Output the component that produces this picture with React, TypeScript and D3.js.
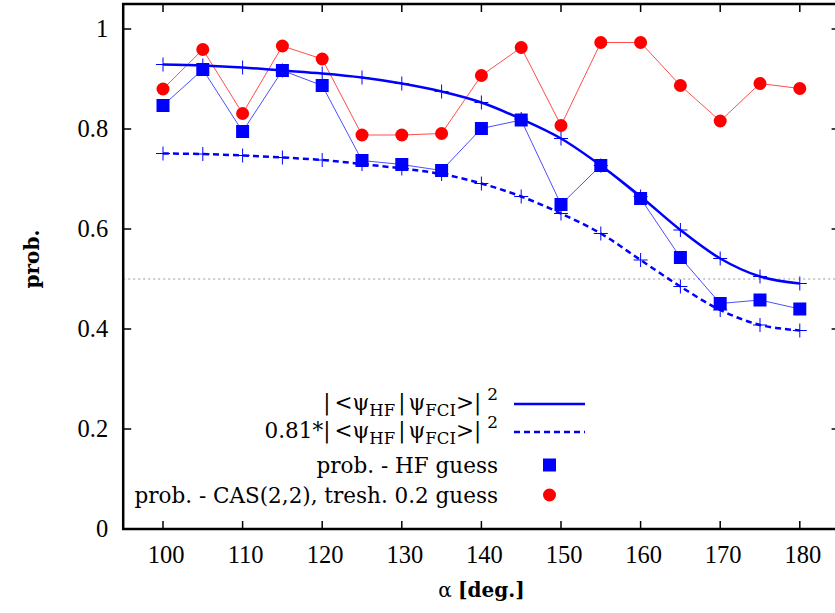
import React from "react";
import * as d3 from "d3";

// angle alpha [deg.]
const angles = [100, 105, 110, 115, 120, 125, 130, 135, 140, 145, 150, 155, 160, 165, 170, 175, 180];
// |<psi_HF|psi_FCI>|^2
const overlap = [0.929, 0.927, 0.923, 0.917, 0.911, 0.903, 0.891, 0.875, 0.853, 0.82, 0.781, 0.727, 0.665, 0.598, 0.541, 0.505, 0.491];
// 0.81*|<psi_HF|psi_FCI>|^2
const overlapScaled = [0.751, 0.75, 0.747, 0.743, 0.738, 0.73, 0.721, 0.71, 0.691, 0.665, 0.631, 0.591, 0.538, 0.485, 0.438, 0.408, 0.397];
// prob. - HF guess
const probHF = [0.847, 0.919, 0.795, 0.917, 0.887, 0.737, 0.729, 0.717, 0.801, 0.818, 0.649, 0.727, 0.661, 0.543, 0.451, 0.458, 0.44];
// prob. - CAS(2,2), tresh. 0.2 guess
const probCAS = [0.88, 0.959, 0.831, 0.966, 0.94, 0.788, 0.788, 0.791, 0.907, 0.963, 0.807, 0.973, 0.973, 0.887, 0.816, 0.891, 0.881];

const xTicks = [100, 110, 120, 130, 140, 150, 160, 170, 180];
const yTicks = [0, 0.2, 0.4, 0.6, 0.8, 1];
const yTickLabels = ["0", "0.2", "0.4", "0.6", "0.8", "1"];

const W = 835;
const H = 613;
const TICK_FONT = "'Liberation Serif', serif";
const TEXT_FONT = "'DejaVu Serif', serif";

const App = () => {
  const x = d3.scaleLinear().domain([95, 185]).range([123.2, 839.6]);
  const y = d3.scaleLinear().domain([0, 1.05]).range([529, 4]);
  const left = x(95), right = x(185), top = y(1.05), bottom = y(0);

  const smooth = d3
    .line<number>()
    .x((_, i) => x(angles[i]))
    .y((d) => y(d))
    .curve(d3.curveCatmullRom.alpha(0.5));
  const straight = d3
    .line<number>()
    .x((_, i) => x(angles[i]))
    .y((d) => y(d));

  const tick = 8;
  const blue = "#0000ff";
  const red = "#ff0000";

  const cross = (cx, cy, k) => (
    <g key={k} stroke={blue} strokeWidth={1}>
      <line x1={cx - 7} x2={cx + 7} y1={cy} y2={cy} />
      <line x1={cx} x2={cx} y1={cy - 7} y2={cy + 7} />
    </g>
  );

  // |<psi_HF|psi_FCI>|^2 with sub/superscripts
  const psiLabel = (prefix) => (
    <>
      {prefix}
      <tspan>|</tspan>
      <tspan dx={4}>&lt;ψ</tspan>
      <tspan dy={6} fontSize={16.5}>HF</tspan>
      <tspan dy={-6} dx={3}>|</tspan>
      <tspan dx={3}>ψ</tspan>
      <tspan dy={6} fontSize={16.5}>FCI</tspan>
      <tspan dy={-6}>&gt;|</tspan>
      <tspan dy={-10} dx={6} fontSize={17}>2</tspan>
    </>
  );

  const legX = 498;
  const legLine = [514, 585];
  const legRows = [404, 432, 465, 495];

  return (
    <svg
      width={W}
      height={H}
      style={{ position: "absolute", left: 0, top: 0, background: "#fff" }}
      fontFamily={TEXT_FONT}
    >
      {/* reference line at 0.5 */}
      <line x1={left} x2={right} y1={y(0.5)} y2={y(0.5)} stroke="#999" strokeWidth={1} strokeDasharray="2,3" />

      {/* connecting thin lines */}
      <path d={straight(probCAS)} fill="none" stroke={red} strokeWidth={0.7} />
      <path d={straight(probHF)} fill="none" stroke={blue} strokeWidth={0.7} />

      {/* overlap curves */}
      <path d={smooth(overlap)} fill="none" stroke={blue} strokeWidth={2.5} />
      <path d={smooth(overlapScaled)} fill="none" stroke={blue} strokeWidth={2.5} strokeDasharray="6,4" />
      {overlap.map((v, i) => cross(x(angles[i]), y(v), "a" + i))}
      {overlapScaled.map((v, i) => cross(x(angles[i]), y(v), "b" + i))}

      {/* markers */}
      {probCAS.map((v, i) => (
        <circle key={"c" + i} cx={x(angles[i])} cy={y(v)} r={6.5} fill={red} />
      ))}
      {probHF.map((v, i) => (
        <rect key={"s" + i} x={x(angles[i]) - 6.5} y={y(v) - 6.5} width={13} height={13} fill={blue} />
      ))}

      {/* ticks */}
      <g stroke="#000" strokeWidth={1.5}>
        {xTicks.map((t) => (
          <g key={"xt" + t}>
            <line x1={x(t)} x2={x(t)} y1={bottom} y2={bottom - tick} />
            <line x1={x(t)} x2={x(t)} y1={top} y2={top + tick} />
          </g>
        ))}
        {yTicks.map((t) => (
          <g key={"yt" + t}>
            <line x1={left} x2={left + tick} y1={y(t)} y2={y(t)} />
            <line x1={right} x2={right - tick} y1={y(t)} y2={y(t)} />
          </g>
        ))}
      </g>
      <rect x={left} y={top} width={right - left} height={bottom - top} fill="none" stroke="#000" strokeWidth={2.5} />

      {/* tick labels */}
      <g fontFamily={TICK_FONT} fontSize={24.5}>
        {xTicks.map((t) => (
          <text key={"xl" + t} x={x(t) + 3} y={bottom + 34} textAnchor="middle">
            {t}
          </text>
        ))}
        {yTicks.map((t, i) => (
          <text key={"yl" + t} x={left - 15} y={y(t) + 8} textAnchor="end">
            {yTickLabels[i]}
          </text>
        ))}
      </g>

      {/* axis titles */}
      <text x={(left + right) / 2} y={597} textAnchor="middle" fontSize={20}>
        α <tspan fontWeight="bold">[deg.]</tspan>
      </text>
      <text transform={`translate(39,${y(0.54)}) rotate(-90)`} textAnchor="middle" fontSize={20} fontWeight="bold">
        prob.
      </text>

      {/* legend */}
      <g fontSize={21.5}>
        <text x={legX} y={legRows[0] + 6} textAnchor="end">{psiLabel("")}</text>
        <line x1={legLine[0]} x2={legLine[1]} y1={legRows[0]} y2={legRows[0]} stroke={blue} strokeWidth={2.5} />
        <text x={legX} y={legRows[1] + 6} textAnchor="end">{psiLabel("0.81*")}</text>
        <line x1={legLine[0]} x2={legLine[1]} y1={legRows[1]} y2={legRows[1]} stroke={blue} strokeWidth={2.5} strokeDasharray="6,4" />
        <text x={legX} y={legRows[2] + 8} textAnchor="end">prob. - HF guess</text>
        <rect x={549.5 - 6.5} y={legRows[2] - 6.5} width={13} height={13} fill={blue} />
        <text x={legX} y={legRows[3] + 8} textAnchor="end">prob. - CAS(2,2), tresh. 0.2 guess</text>
        <circle cx={549.5} cy={legRows[3]} r={6.5} fill={red} />
      </g>
    </svg>
  );
};

export default App;
